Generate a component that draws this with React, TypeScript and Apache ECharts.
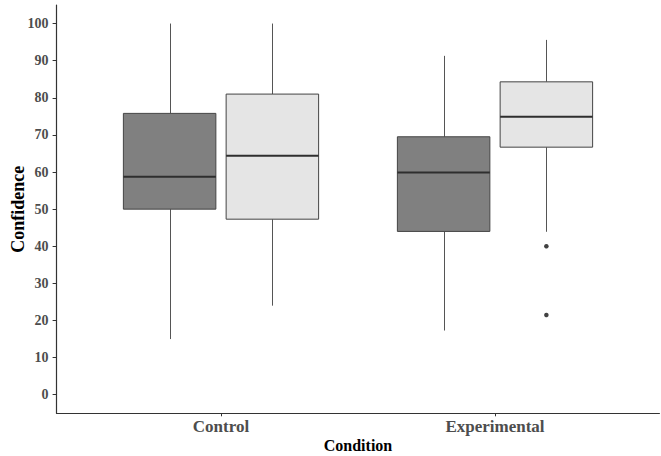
import React, { useEffect, useRef } from "react";
import * as echarts from "echarts";

// Categories on the x axis
const categories = ["Control", "Experimental"];
// Box statistics per category: [lower whisker, Q1, median, Q3, upper whisker]
const darkGroupStats = [
  [15, 50, 58.7, 75.8, 100],
  [17.3, 44, 59.9, 69.5, 91.3],
];
const lightGroupStats = [
  [24, 47.3, 64.4, 81, 100],
  [43.9, 66.7, 74.9, 84.3, 95.6],
];
// Outliers: [category index (0-based), value]
const lightGroupOutliers = [
  [1, 40],
  [1, 21.5],
];
const yTicks = [0, 10, 20, 30, 40, 50, 60, 70, 80, 90, 100];

const DODGE = 0.1875;
const HALF = 0.16875;
const FONT = '"Liberation Serif", "Times New Roman", serif';

function makeRender(offset: number, fill: string) {
  return (params: any, api: any) => {
    const x = api.value(0) + offset;
    const low = api.coord([x, api.value(1)]);
    const q1 = api.coord([x, api.value(2)]);
    const med = api.coord([x, api.value(3)]);
    const q3 = api.coord([x, api.value(4)]);
    const high = api.coord([x, api.value(5)]);
    const left = api.coord([x - HALF, 0])[0];
    const right = api.coord([x + HALF, 0])[0];
    const cx = Math.round(low[0]) + 0.5;
    const whisker = { stroke: "#555555", lineWidth: 1 };
    return {
      type: "group",
      children: [
        { type: "line", shape: { x1: cx, y1: low[1], x2: cx, y2: q1[1] }, style: whisker },
        { type: "line", shape: { x1: cx, y1: q3[1], x2: cx, y2: high[1] }, style: whisker },
        {
          type: "rect",
          shape: { x: left, y: q3[1], width: right - left, height: q1[1] - q3[1] },
          style: { fill, stroke: "#444444", lineWidth: 1 },
        },
        {
          type: "line",
          shape: { x1: left, y1: med[1], x2: right, y2: med[1] },
          style: { stroke: "#2e2e2e", lineWidth: 2 },
        },
      ],
    };
  };
}

export default function App() {
  const ref = useRef<HTMLDivElement>(null);
  useEffect(() => {
    if (!ref.current) return;
    const chart = echarts.init(ref.current, undefined, { renderer: "svg" });
    const toData = (stats: number[][]) => stats.map((s, i) => [i + 1, ...s]);
    chart.setOption({
      animation: false,
      backgroundColor: "#ffffff",
      grid: {
        left: 56.6,
        right: 1.6,
        top: 5,
        bottom: 42.7,
        containLabel: false,
        outerBoundsMode: "none",
      },
      xAxis: {
        type: "value",
        min: 0.4,
        max: 2.6,
        name: "Condition",
        nameLocation: "middle",
        nameGap: 24,
        nameMoveOverlap: false,
        nameTextStyle: { fontFamily: FONT, fontWeight: "bold", fontSize: 16, color: "#000000" },
        axisLine: { show: true, onZero: false, lineStyle: { color: "#333333", width: 1.2 } },
        axisTick: { show: true, length: 3, customValues: [1, 2], lineStyle: { color: "#333333" } },
        axisLabel: {
          customValues: [1, 2],
          formatter: (v: number) => categories[Math.round(v) - 1] ?? "",
          fontFamily: FONT,
          fontWeight: "bold",
          fontSize: 17,
          color: "#4d4d4d",
          margin: 5,
        },
        splitLine: { show: false },
      },
      yAxis: {
        type: "value",
        min: -5,
        max: 105,
        name: "Confidence",
        nameLocation: "middle",
        nameRotate: 90,
        nameGap: 30,
        nameMoveOverlap: false,
        nameTextStyle: { fontFamily: FONT, fontWeight: "bold", fontSize: 18, color: "#000000" },
        axisLine: { show: true, onZero: false, lineStyle: { color: "#333333", width: 1.2 } },
        axisTick: { show: true, length: 4, customValues: yTicks, lineStyle: { color: "#333333" } },
        axisLabel: {
          customValues: yTicks,
          fontFamily: FONT,
          fontWeight: "bold",
          fontSize: 14,
          color: "#4d4d4d",
          margin: 8,
        },
        splitLine: { show: false },
      },
      series: [
        {
          type: "custom",
          name: "A",
          renderItem: makeRender(-DODGE, "#808080"),
          encode: { x: 0, y: [1, 2, 3, 4, 5] },
          data: toData(darkGroupStats),
        },
        {
          type: "custom",
          name: "B",
          renderItem: makeRender(DODGE, "#e5e5e5"),
          encode: { x: 0, y: [1, 2, 3, 4, 5] },
          data: toData(lightGroupStats),
        },
        {
          type: "scatter",
          name: "B outliers",
          symbol: "circle",
          symbolSize: 4.5,
          itemStyle: { color: "#111111" },
          data: lightGroupOutliers.map(([c, v]) => [c + 1 + DODGE, v]),
        },
      ],
    });
    return () => chart.dispose();
  }, []);
  return (
    <div
      ref={ref}
      style={{ position: "fixed", left: 0, top: 0, width: 661, height: 456, background: "#fff" }}
    />
  );
}
